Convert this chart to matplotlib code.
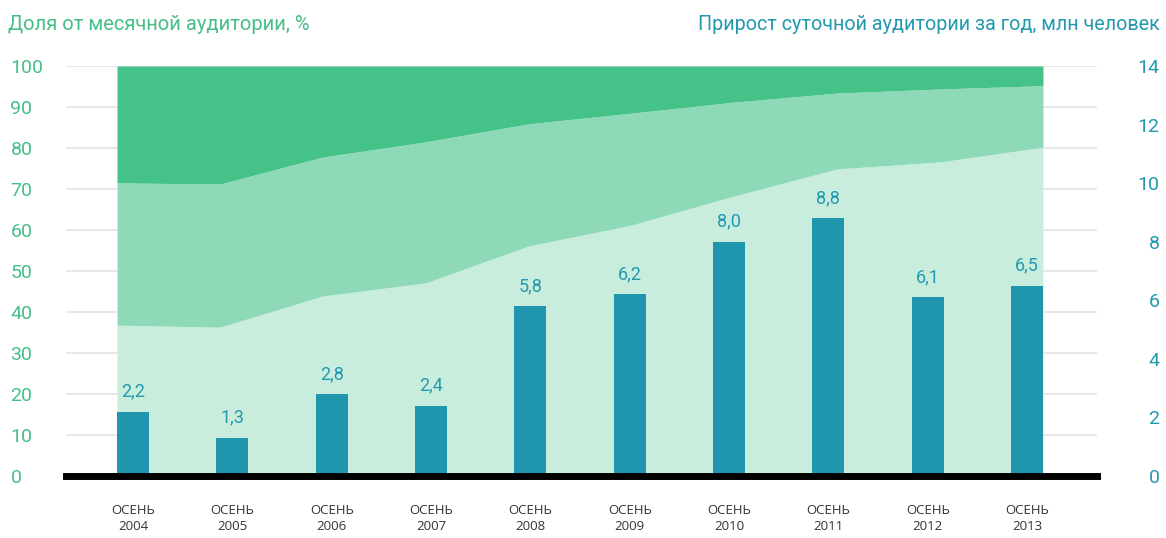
"""Share of monthly audience (stacked areas) and yearly daily-audience growth (bars)."""

import matplotlib

matplotlib.use("Agg")
import matplotlib.pyplot as plt  # noqa: E402
import numpy as np  # noqa: E402

DARK = "#45C288"
MID = "#8ED9B7"
LIGHT = "#C8EDDD"
BAR = "#2096AE"
GREEN_TXT = "#45BF87"
TEAL_TXT = "#2399AF"
GRID = "#E8E8E8"
INK = "#333333"

years = ["2004", "2005", "2006", "2007", "2008", "2009", "2010", "2011", "2012", "2013"]
share_low = [36.8, 36.3, 43.9, 47.1, 56.1, 61.2, 68.3, 74.9, 76.6, 80.2]
share_mid = [71.5, 71.2, 77.8, 81.5, 85.9, 88.5, 91.2, 93.4, 94.4, 95.2]
share_top = [100] * 10
growth = [2.2, 1.3, 2.8, 2.4, 5.8, 6.2, 8.0, 8.8, 6.1, 6.5]

plt.rcParams["font.family"] = ["Roboto", "DejaVu Sans"]

W, H = 1166, 538
fig = plt.figure(figsize=(W / 100, H / 100), dpi=100)
ax = fig.add_axes([66 / W, (H - 476) / H, (1097 - 66) / W, (476 - 66) / H])
ax2 = ax.twinx()

n = len(years)
pos = np.arange(n)
bw = 0.322
# the area runs edge to edge of the first and last bar
xa = np.linspace(pos[0] - bw / 2, pos[-1] + bw / 2, n)

ax.fill_between(xa, 0, share_low, color=LIGHT, lw=0, zorder=1)
ax.fill_between(xa, share_low, share_mid, color=MID, lw=0, zorder=1)
ax.fill_between(xa, share_mid, share_top, color=DARK, lw=0, zorder=1)
ax.set_ylim(0, 100)
ax.set_xlim(-0.6745, 9.705)
ax.set_yticks(range(0, 101, 10))
ax.yaxis.grid(True, color=GRID, lw=1.5, zorder=0)
ax.set_axisbelow(True)
ax.tick_params(axis="y", length=0, pad=40, labelsize=14, labelcolor=GREEN_TXT)
for lab in ax.get_yticklabels():
    lab.set_horizontalalignment("left")
ax.set_xticks(pos)
ax.set_xticklabels([f"ОСЕНЬ\n{y}" for y in years], fontsize=9.5, color=INK,
                   linespacing=1.35, family=["Open Sans", "DejaVu Sans"])
ax.tick_params(axis="x", length=0, pad=20)

ax2.bar(pos, growth, width=bw, color=BAR, zorder=3)
for x, v in zip(pos, growth):
    ax2.annotate(f"{v:.1f}".replace(".", ","), xy=(x, v), xytext=(0, 8),
                 textcoords="offset points", ha="center", va="bottom",
                 fontsize=13, color=TEAL_TXT)
ax2.set_ylim(0, 14)
ax2.set_yticks(range(0, 15, 2))
ax2.tick_params(axis="y", length=0, pad=45, labelsize=14, labelcolor=TEAL_TXT)
for lab in ax2.get_yticklabels():
    lab.set_horizontalalignment("right")

for a in (ax, ax2):
    for s in a.spines.values():
        s.set_visible(False)

ax2.axhline(0, color="black", lw=5, zorder=5, clip_on=False)

fig.text(8 / W, 1 - 25 / H, "Доля от месячной аудитории, %", ha="left", va="center",
         fontsize=14.5, color=GREEN_TXT)
fig.text(1160 / W, 1 - 25 / H, "Прирост суточной аудитории за год, млн человек", ha="right",
         va="center", fontsize=14.2, color=TEAL_TXT)

fig.savefig("out.png", dpi=100)
